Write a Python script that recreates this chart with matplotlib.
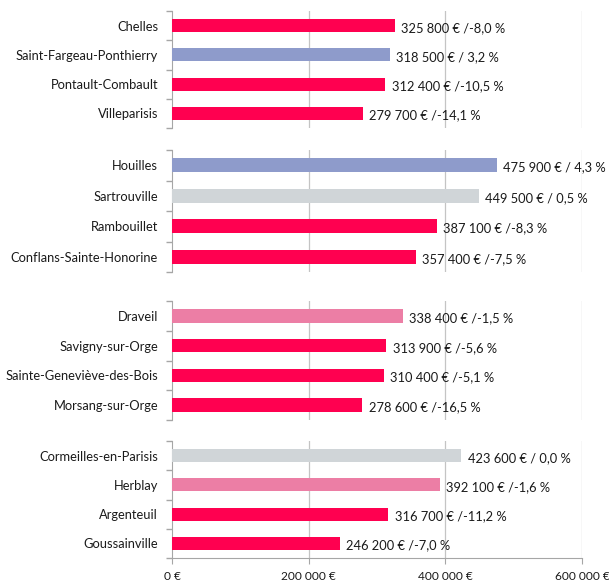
import matplotlib
matplotlib.use("Agg")
import matplotlib.pyplot as plt
from matplotlib.ticker import FixedLocator

# data, one list per group (top to bottom)
towns = [
    ["Chelles", "Saint-Fargeau-Ponthierry", "Pontault-Combault", "Villeparisis"],
    ["Houilles", "Sartrouville", "Rambouillet", "Conflans-Sainte-Honorine"],
    ["Draveil", "Savigny-sur-Orge", "Sainte-Geneviève-des-Bois", "Morsang-sur-Orge"],
    ["Cormeilles-en-Parisis", "Herblay", "Argenteuil", "Goussainville"],
]
prices = [
    [325800, 318500, 312400, 279700],
    [475900, 449500, 387100, 357400],
    [338400, 313900, 310400, 278600],
    [423600, 392100, 316700, 246200],
]
changes = [
    [-8.0, 3.2, -10.5, -14.1],
    [4.3, 0.5, -8.3, -7.5],
    [-1.5, -5.6, -5.1, -16.5],
    [0.0, -1.6, -11.2, -7.0],
]
x_ticks = [0, 200000, 400000, 600000]
x_tick_labels = ["0 €", "200 000 €", "400 000 €", "600 000 €"]

RED = "#FF0050"
PINK = "#EC7EA5"
GREY = "#D0D5D8"
BLUE = "#8E9BCB"
TXT = "#1A1A1A"


def bar_colour(pct: float) -> str:
    if pct > 1.0:
        return BLUE
    if pct >= 0.0:
        return GREY
    if pct > -2.0:
        return PINK
    return RED


def fmt_num(v: float) -> str:
    return f"{v:,.0f}".replace(",", " ")


def fmt_pct(p: float) -> str:
    s = f"{p:.1f}".replace(".", ",")
    return f"/ {s} %" if p >= 0 else f"/{s} %"


plt.rcParams["font.family"] = ["Lato", "DejaVu Sans"]

W, H = 609, 583
fig = plt.figure(figsize=(W / 100, H / 100), dpi=100)

# pixel extents of each panel (top, bottom)
panels = [(11, 128), (150, 272), (301, 420), (441, 558)]
left_px, right_px = 172, 582

for i, (top, bot) in enumerate(panels):
    ax = fig.add_axes([left_px / W, 1 - bot / H, (right_px - left_px) / W, (bot - top) / H])
    n = len(towns[i])
    ypos = list(range(n))
    cols = [bar_colour(p) for p in changes[i]]
    ax.barh(ypos, prices[i], height=0.45, color=cols, zorder=3)
    ax.set_ylim(n - 0.5, -0.5)
    ax.set_xlim(0, 600000)
    for y, v, p in zip(ypos, prices[i], changes[i]):
        ax.annotate(f"{fmt_num(v)} € {fmt_pct(p)}", xy=(v, y), xytext=(4.5, -1.5),
                    textcoords="offset points", va="center", ha="left",
                    fontsize=9.3, color=TXT, zorder=4)

    ax.set_yticks(ypos)
    ax.set_yticklabels(towns[i], fontsize=9.3, color=TXT)
    ax.tick_params(axis="y", which="major", length=0, pad=10)
    ax.yaxis.set_minor_locator(FixedLocator([k - 0.5 for k in range(n + 1)]))
    ax.tick_params(axis="y", which="minor", length=4, color="#A6A6A6", width=1)

    for xv in x_ticks[1:]:
        ax.axvline(xv, color="#C4C4C4", lw=0.9, zorder=1)

    for s in ("top", "right"):
        ax.spines[s].set_visible(False)
    ax.spines["left"].set_color("#A6A6A6")
    if i == len(panels) - 1:
        ax.spines["bottom"].set_color("#A6A6A6")
        ax.set_xticks(x_ticks)
        ax.set_xticklabels(x_tick_labels, fontsize=8.6, color=TXT)
        ax.tick_params(axis="x", length=4, color="#A6A6A6", pad=5)
        ax.get_xticklabels()[-1].set_horizontalalignment("center")
    else:
        ax.spines["bottom"].set_visible(False)
        ax.set_xticks([])

fig.savefig("out.png", dpi=100)
